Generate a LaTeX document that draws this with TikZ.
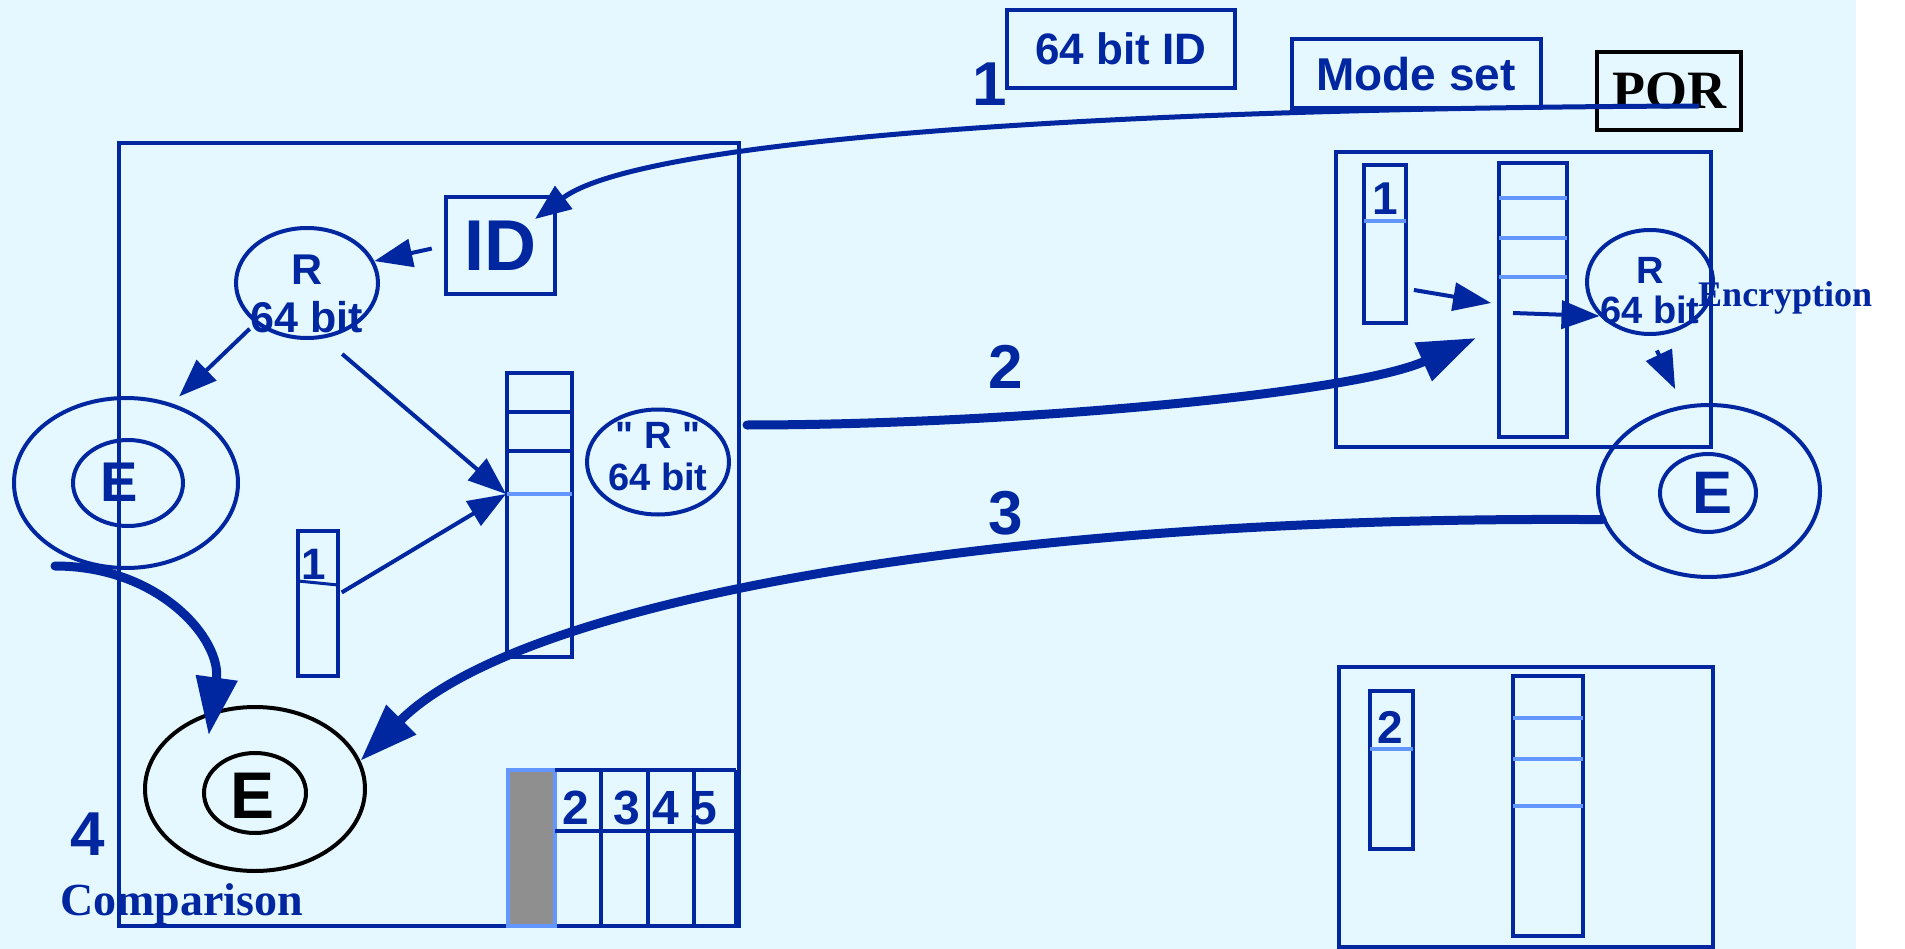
\documentclass[tikz,border=0pt]{standalone}
\usepackage{fontspec}
\usepackage{tikz}
\usetikzlibrary{shapes.geometric,arrows.meta,positioning,calc}
\newfontfamily\arialf{Liberation Sans}
\newfontfamily\timesf{Liberation Serif}
\newcommand\pxsize[2]{\fontsize{#1}{#2}\selectfont}
\definecolor{dblue}{RGB}{0,38,160}
\definecolor{lblue}{RGB}{100,150,255}
\definecolor{bgcyan}{RGB}{230,248,255}
\definecolor{cellgray}{RGB}{143,143,143}

\begin{document}
\begin{tikzpicture}[x=1pt,y=-1pt,
 frame/.style={draw=dblue,line width=4pt,inner sep=0pt},
 lbl/.style={text=dblue,font=\arialf\bfseries\pxsize{#1}{#1},inner sep=0pt},
 ring/.style={ellipse,draw=dblue,line width=4pt,inner sep=0pt},
 thinarr/.style={draw=dblue,line width=4pt,-{Triangle[length=38pt,width=28pt]}},
 thickarr/.style={draw=dblue,line width=9pt,line cap=round,-{Triangle[length=58pt,width=40pt]}}]
\useasboundingbox (0,0) rectangle (1905,949);
\fill[bgcyan] (0,0) rectangle (1856,949);

% left chip
\node[frame,minimum width=620pt,minimum height=783pt] (leftbox) at (429,534.5) {};
\node[frame,lbl=72,minimum width=109pt,minimum height=97pt] (idbox) at (500,246) {ID};
\node[ring,minimum width=142pt,minimum height=110pt] (rleft) at (307,283) {};
\node[text=dblue,inner sep=0pt,align=center,font=\arialf\bfseries\pxsize{43}{48}] (rlefttxt) at (307,294) {R\\64 bit};
\node[frame,minimum width=65pt,minimum height=284pt] (lreg) at (539.5,515) {};
\draw[dblue,line width=4pt] (507,412) -- (572,412) (507,451) -- (572,451);
\draw[lblue,line width=3.5pt] (507,494) -- (572,494);
\coordinate (lregmark) at (506,494);
\node[ring,minimum width=142pt,minimum height=105pt] (rquote) at (658,462) {};
\node[text=dblue,inner sep=0pt,align=center,font=\arialf\bfseries\pxsize{38}{42}] (rquotetxt) at (658,457) {" R "\\64 bit};
\node[frame,minimum width=40pt,minimum height=145pt] (lone) at (318,603.5) {};
\draw[dblue,line width=3pt] (298,581) -- (338,585);
\node[lbl=44] (lonenum) at (314,564) {1};
\node[ring,minimum width=224pt,minimum height=170pt] (leouter) at (126,483) {};
\node[ring,minimum width=110pt,minimum height=86pt] (leinner) at (128,483) {};
\node[lbl=56] (leletter) at (119,482) {E};
\node[ring,draw=black,minimum width=220pt,minimum height=164pt] (beouter) at (255,789) {};
\node[ring,draw=black,minimum width=102pt,minimum height=80pt] (beinner) at (255,793) {};
\node[lbl=66,text=black] (beletter) at (253,796) {E};

% slot table
\fill[cellgray] (508,770) rectangle (555,926);
\draw[lblue,line width=3.5pt] (508,770) rectangle (555,926);
\draw[dblue,line width=4pt] (555,770) -- (736,770) (555,831) -- (736,831);
\foreach \xc in {601,648,694,736} \draw[dblue,line width=4pt] (\xc,770) -- (\xc,926);
\node[lbl=48] (slottwo) at (576,808) {2};
\node[lbl=48] (slotthree) at (627,808) {3};
\node[lbl=48] (slotfour) at (666,808) {4};
\node[lbl=48] (slotfive) at (704,808) {5};

% right chips
\node[frame,minimum width=375pt,minimum height=295pt] (rtbox) at (1523.5,299.5) {};
\node[frame,minimum width=42pt,minimum height=158pt] (rone) at (1385,244) {};
\draw[lblue,line width=3.5pt] (1364,221) -- (1406,221);
\node[lbl=46] (ronenum) at (1385,199) {1};
\node[frame,minimum width=68pt,minimum height=274pt] (rtall) at (1533,300) {};
\foreach \yc in {198,238,277} \draw[lblue,line width=3.5pt] (1499,\yc) -- (1567,\yc);
\coordinate (rtmid) at (1513,313);
\node[ring,minimum width=126pt,minimum height=104pt] (rright) at (1650,282) {};
\node[text=dblue,inner sep=0pt,align=center,font=\arialf\bfseries\pxsize{38}{40}] (rrighttxt) at (1650,291) {R\\64 bit};
\node[text=dblue,font=\timesf\bfseries\pxsize{36}{36},inner sep=0pt,anchor=base west] (enctxt) at (1698,307) {Encryption};
\node[ring,minimum width=222pt,minimum height=172pt] (reouter) at (1709,491) {};
\node[ring,minimum width=96pt,minimum height=78pt] (reinner) at (1708,493) {};
\node[lbl=60] (reletter) at (1712,493) {E};

\node[frame,minimum width=374pt,minimum height=280pt] (rbbox) at (1526,807) {};
\node[frame,minimum width=43pt,minimum height=158pt] (bone) at (1391.5,770) {};
\draw[lblue,line width=3.5pt] (1370,749) -- (1413,749);
\node[lbl=46] (bonenum) at (1390,727) {2};
\node[frame,minimum width=70pt,minimum height=260pt] (btall) at (1548,806) {};
\foreach \yc in {718,759,806} \draw[lblue,line width=3.5pt] (1513,\yc) -- (1583,\yc);

% top row
\node[frame,lbl=44,minimum width=228pt,minimum height=78pt] (idsrc) at (1121,49) {64 bit ID};
\node[frame,lbl=46,minimum width=249pt,minimum height=69pt] (modeset) at (1416,74) {Mode set};
\node[draw=black,line width=4pt,text=black,font=\timesf\bfseries\pxsize{54}{54},minimum width=144pt,minimum height=78pt,inner sep=0pt] (por) at (1669,91) {POR};
\coordinate (porout) at (1699,106);
\coordinate (idin) at (535,219);

% step numbers
\node[lbl=62] (stepone) at (990,84) {1};
\node[lbl=62] (steptwo) at (1006,367) {2};
\node[lbl=62] (stepthree) at (1006,513) {3};
\node[lbl=62] (stepfour) at (88,834) {4};
\node[text=dblue,font=\timesf\bfseries\pxsize{46}{46},inner sep=0pt,anchor=base west] (cmptxt) at (60,915) {Comparison};

% connectors
\draw[dblue,line width=5pt,-{Triangle[length=36pt,width=28pt]}] (porout) .. controls (1100,108) and (640,140) .. (idin);
\draw[thinarr,shorten <=12pt] (idbox.west) -- (rleft.18);
\draw[thinarr,shorten <=8pt,shorten >=10pt] (rleft.218) -- (leouter.60);
\draw[thinarr,shorten <=24pt] (rleft.287) -- (lregmark);
\draw[thinarr,shorten <=2pt] ([yshift=10pt]lone.east) -- (lregmark);
\draw[thinarr,shorten <=6pt,shorten >=6pt] ([yshift=-45pt]rone.east) -- ([yshift=-4pt]rtall.west);
\draw[thinarr] (rtmid) -- (rright.214);
\draw[thinarr,shorten <=16pt,shorten >=18pt] (rright.south) -- (reouter.107);
\coordinate (lout) at (747,425);
\coordinate (rin) at (1476,338);
\coordinate (fourstart) at (55,566);
\draw[thickarr] (lout) .. controls (1000,425) and (1350,395) .. (rin);
\draw[thickarr] (reouter.195) .. controls (1000,515) and (520,600) .. (beouter.15);
\draw[thickarr,shorten >=-24pt] (fourstart) .. controls (160,566) and (222,640) .. (beouter.119);
\end{tikzpicture}
\end{document}
